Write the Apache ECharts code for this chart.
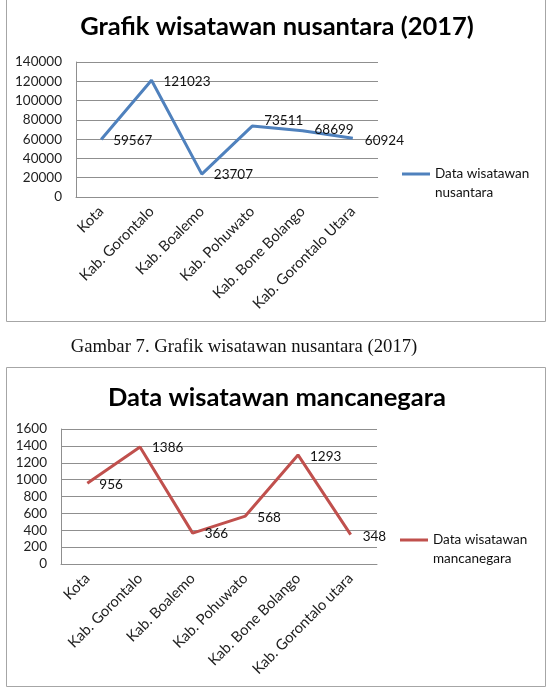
<!DOCTYPE html>
<html>
<head>
<meta charset="utf-8">
<script src="https://cdn.jsdelivr.net/npm/echarts@6/dist/echarts.min.js"></script>
<style>
  html, body { margin: 0; padding: 0; background: #fff; }
  #main { width: 548px; height: 694px; }
</style>
</head>
<body>
<div id="main"></div>
<script>
// data
const categoriesNus = ['Kota', 'Kab. Gorontalo', 'Kab. Boalemo', 'Kab. Pohuwato', 'Kab. Bone Bolango', 'Kab. Gorontalo Utara'];
const valuesNus = [59567, 121023, 23707, 73511, 68699, 60924];
const categoriesMan = ['Kota', 'Kab. Gorontalo', 'Kab. Boalemo', 'Kab. Pohuwato', 'Kab. Bone Bolango', 'Kab. Gorontalo utara'];
const valuesMan = [956, 1386, 366, 568, 1293, 348];

const font = 'Lato, "Noto Sans", sans-serif';
const gridColor = '#8f8f8f';

// small vertical nudges for the data labels (Excel moved some to avoid overlap)
const nudgeNus = [1, 1, 1, -5, -1, 2];
const nudgeMan = [1, 1, 1, 2, 2, 2];

const chart = echarts.init(document.getElementById('main'), null, { renderer: 'canvas' });

const xAxisFor = (cats, gridIndex) => ({
  type: 'category',
  gridIndex: gridIndex,
  data: cats,
  boundaryGap: true,
  axisLine: { lineStyle: { color: gridColor, width: 1 } },
  axisTick: { show: false },
  axisLabel: { rotate: 45, margin: 12, fontSize: 14.8, color: '#222', fontFamily: font, interval: 0 }
});

const yAxisFor = (max, interval, gridIndex) => ({
  type: 'value',
  gridIndex: gridIndex,
  min: 0,
  max: max,
  interval: interval,
  axisLine: { show: true, lineStyle: { color: gridColor, width: 1 } },
  axisTick: { show: false },
  splitLine: { lineStyle: { color: gridColor, width: 1 } },
  axisLabel: { margin: 14, fontSize: 13.5, color: '#222', fontFamily: font, formatter: (v) => String(v) }
});

const seriesFor = (name, vals, nudges, color, idx) => ({
  name: name,
  type: 'line',
  xAxisIndex: idx,
  yAxisIndex: idx,
  symbol: 'circle',
  symbolSize: 0,
  showSymbol: true,
  lineStyle: { color: color, width: 3 },
  itemStyle: { color: color },
  data: vals.map((v, i) => ({
    value: v,
    label: { offset: [0, nudges[i]] }
  })),
  label: {
    show: true,
    position: 'right',
    distance: 12,
    fontSize: 13.5,
    color: '#111',
    fontFamily: font
  }
});

// icon path: a 3px bar near the top of a 28x38 box, so it lines up with the first text line
const legendIcon = 'path://M0,0 L0.01,0 M0,8 L28,8 L28,11 L0,11 Z M0,38 L0.01,38';

const legendFor = (name, left, top) => ({
  data: [name],
  left: left,
  top: top,
  padding: 0,
  itemWidth: 28,
  itemHeight: 38,
  itemGap: 3,
  icon: legendIcon,
  formatter: (n) => n === 'Data wisatawan nusantara' ? 'Data wisatawan\nnusantara' : 'Data wisatawan\nmancanegara',
  textStyle: { fontSize: 13.5, color: '#111', fontFamily: font, lineHeight: 19 }
});

const option = {
  backgroundColor: '#fff',
  animation: false,
  title: [
    {
      text: 'Grafik wisatawan nusantara (2017)',
      left: 272, top: 9, textAlign: 'center',
      textStyle: { fontSize: 25.5, fontWeight: 'bold', color: '#000', fontFamily: font }
    },
    {
      text: 'Data wisatawan mancanegara',
      left: 272, top: 380, textAlign: 'center',
      textStyle: { fontSize: 25.5, fontWeight: 'bold', color: '#000', fontFamily: font }
    },
    {
      text: 'Gambar 7. Grafik wisatawan nusantara (2017)',
      left: 239, top: 333, textAlign: 'center',
      textStyle: { fontSize: 18.7, fontWeight: 'normal', color: '#111', fontFamily: '"Liberation Serif", "DejaVu Serif", serif' }
    }
  ],
  legend: [
    legendFor('Data wisatawan nusantara', 402, 164.5),
    legendFor('Data wisatawan mancanegara', 400, 530.5)
  ],
  grid: [
    { left: 76, right: 170, top: 62, bottom: 497 },
    { left: 61, right: 171, top: 429, bottom: 130 }
  ],
  xAxis: [xAxisFor(categoriesNus, 0), xAxisFor(categoriesMan, 1)],
  yAxis: [yAxisFor(140000, 20000, 0), yAxisFor(1600, 200, 1)],
  series: [
    seriesFor('Data wisatawan nusantara', valuesNus, nudgeNus, '#4F81BD', 0),
    seriesFor('Data wisatawan mancanegara', valuesMan, nudgeMan, '#C0504D', 1)
  ],
  graphic: [
    // chart area borders
    { type: 'rect', shape: { x: 6.5, y: -2, width: 539, height: 323.5 }, style: { fill: null, stroke: '#a6a6a6', lineWidth: 1 }, z: -1 },
    { type: 'rect', shape: { x: 6.5, y: 367.5, width: 539, height: 319 }, style: { fill: null, stroke: '#a6a6a6', lineWidth: 1 }, z: -1 }
  ]
};

chart.setOption(option);
</script>
</body>
</html>
